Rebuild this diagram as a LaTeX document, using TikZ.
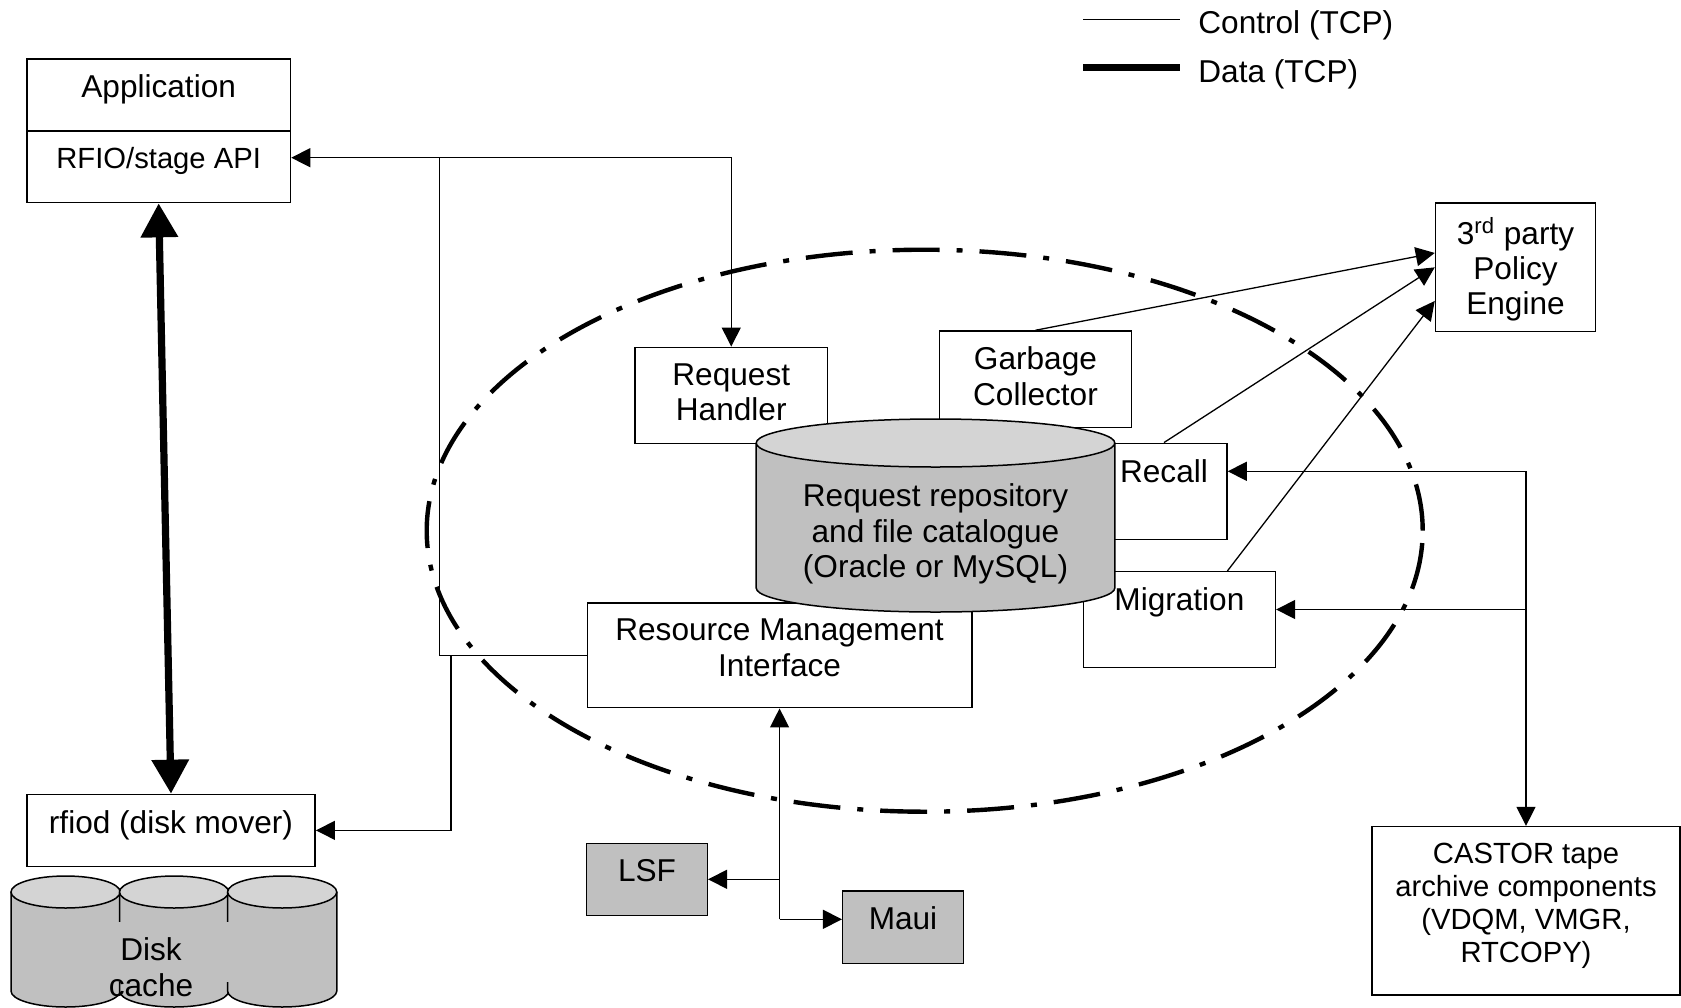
\documentclass[tikz,border=0pt]{standalone}
\usepackage{fontspec}
\setmainfont{Liberation Sans}
\usepackage{tikz}
\usetikzlibrary{arrows.meta,positioning,calc}
\definecolor{cylbody}{RGB}{192,192,192}
\definecolor{cyltop}{RGB}{212,212,212}
\newcommand{\boxfont}{\fontsize{15.8}{17.7}\selectfont}
\newcommand{\apifont}{\fontsize{14.6}{16.6}\selectfont}
\tikzstyle{box}=[draw,line width=0.75pt,fill=white,inner sep=0pt]
\tikzstyle{greybox}=[box,fill=cylbody]
\tikzstyle{boxtext}=[anchor=north,align=center,inner sep=0pt,yshift=-8.2pt]
\tikzstyle{ctl}=[line width=0.65pt]
\tikzstyle{data}=[line width=3.9pt]
\tikzstyle{data arrow}=[line width=3.6pt,>={Triangle[length=17pt,width=18pt]},<->]
\tikzstyle{boundary}=[line width=2.2pt,dash pattern=on 23.5pt off 8.5pt on 3pt off 8.5pt]
% cylinder: x, top y, bottom y, x radius, y radius
\newcommand{\drum}[5]{%
  \filldraw[fill=cylbody,line width=0.75pt] ([xshift=-#4]#1,#2) -- ([xshift=-#4]#1,#3)
    arc[start angle=180,end angle=360,x radius=#4,y radius=#5] -- ([xshift=#4]#1,#2);
  \filldraw[fill=cyltop,line width=0.75pt] (#1,#2) ellipse[x radius=#4,y radius=#5];}

\begin{document}
\begin{tikzpicture}[x=0.5pt,y=-0.5pt,font=\boxfont,>={Triangle[length=9.5pt,width=9.5pt]}]
\useasboundingbox (0,0) rectangle (1681,1007);

% stager boundary
\draw[boundary] (924.7,530.7) ellipse[x radius=249pt,y radius=140.5pt];

% client side
\node[box,minimum width=131.85pt,minimum height=35.9pt,label={[boxtext]north:Application}] (app) at (158.65,94.9) {};
\node[box,minimum width=131.85pt,minimum height=35.9pt,label={[boxtext,font=\apifont]north:RFIO/stage API}] (api) at (158.65,166.7) {};
\node[box,minimum width=144.2pt,minimum height=35.95pt,label={[boxtext]north:rfiod (disk mover)}] (rfiod) at (171,830.35) {};

% stager components
\node[box,minimum width=96.25pt,minimum height=48pt,label={[boxtext]north:Request\\Handler}] (handler) at (731.25,395.3) {};
\node[box,minimum width=95.95pt,minimum height=48.35pt,label={[boxtext]north:Garbage\\Collector}] (gc) at (1035.45,379.35) {};
\node[box,minimum width=63pt,minimum height=48pt,label={[boxtext]north:Recall}] (recall) at (1164,491.3) {};
\node[box,minimum width=96pt,minimum height=47.8pt,label={[boxtext]north:Migration}] (migration) at (1179.4,619.5) {};
\node[box,minimum width=192.25pt,minimum height=52.35pt,label={[boxtext]north:Resource Management\\Interface}] (rmi) at (779.55,655.35) {};
\node[greybox,minimum width=60.3pt,minimum height=36pt,label={[boxtext]north:LSF}] (lsf) at (647,879.3) {};
\node[greybox,minimum width=60.3pt,minimum height=36.15pt,label={[boxtext]north:Maui}] (maui) at (903,927.15) {};
\node[box,minimum width=80pt,minimum height=64.15pt,label={[boxtext,yshift=0.8pt]north:3\textsuperscript{rd} party\\Policy\\Engine}] (policy) at (1515.5,267.35) {};
\node[box,minimum width=154pt,minimum height=84.2pt,label={[boxtext,font=\apifont]north:CASTOR tape\\archive components\\(VDQM, VMGR,\\RTCOPY)}] (castor) at (1526,910.8) {};

% database and disk cache
\drum{935.5}{443}{588}{89.65pt}{12pt}
\node[align=center] (repo) at (935.5,534) {Request repository\\and file catalogue\\(Oracle or MySQL)};
\drum{65.6}{892}{991}{27.3pt}{8pt}
\drum{174.1}{892}{991}{27.3pt}{8pt}
\drum{282.2}{892}{991}{27.3pt}{8pt}
\fill[cylbody] (117,922) rectangle (232,982);
\node[align=center] (cache) at (151,967) {Disk\\cache};

% data
\draw[data arrow] (api.south) -- (rfiod.north);

% control
\coordinate (apiin) at ([yshift=4.5pt]api.east);
\coordinate (split) at (439.6,157.7);
\coordinate (tap) at (451,655.35);
\draw[ctl,<->] (apiin) -| (handler.north);
\draw[ctl] (split) |- (rmi.west);
\draw[ctl,->] (tap) |- (rfiod.east);

\coordinate (sched) at (779.55,919.3);
\draw[ctl,->] (sched) -- (rmi.south);
\draw[ctl,->] (sched |- lsf.east) -- (lsf.east);
\draw[ctl,->] (sched) -- (sched -| maui.west);

\draw[ctl,->] (gc.north) -- ([yshift=7.2pt]policy.west);
\draw[ctl,->] (recall.north) -- (policy.west);
\draw[ctl,->] ([xshift=24pt]migration.north) -- ([yshift=-16.8pt]policy.west);

\coordinate (recallin) at ([yshift=10pt]recall.east);
\coordinate (migin) at ([yshift=5pt]migration.east);
\draw[ctl,<->] (recallin) -| (castor.north);
\draw[ctl,->] (migin -| castor.north) -- (migin);

% legend
\node[anchor=west,inner sep=0pt] (ctlkey) at (1198,25) {Control (TCP)};
\node[anchor=west,inner sep=0pt] (datakey) at (1198,74) {Data (TCP)};
\coordinate (ctlA) at (1083,19.3);
\coordinate (ctlB) at (1179.6,19.3);
\coordinate (datA) at (1083,67.5);
\coordinate (datB) at (1179.6,67.5);
\draw[ctl] (ctlA) -- (ctlB);
\draw[data] (datA) -- (datB);
\end{tikzpicture}
\end{document}
